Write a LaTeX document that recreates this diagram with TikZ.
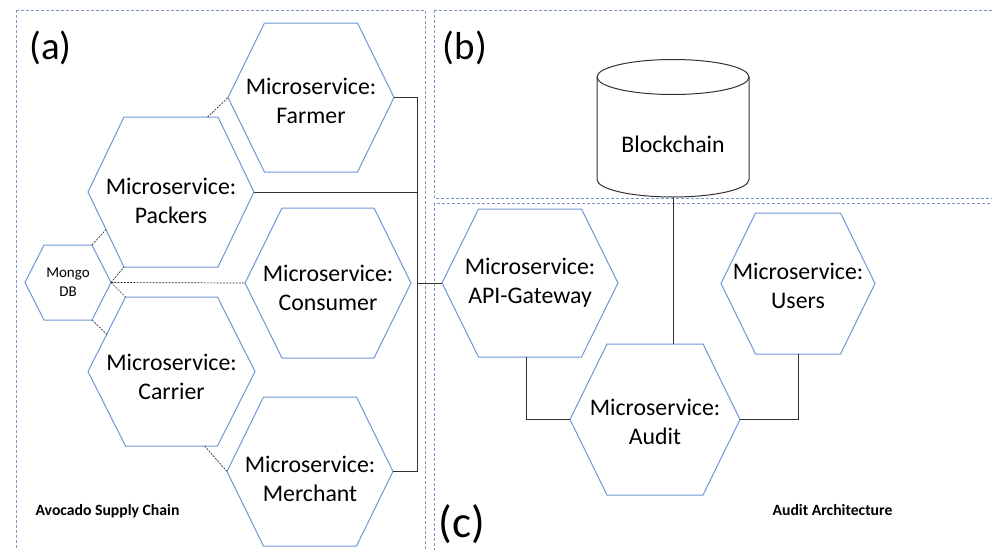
\documentclass[tikz,border=0pt]{standalone}
\usepackage{fontspec}
\setmainfont{Carlito}
\usetikzlibrary{calc}
\definecolor{hexblue}{RGB}{110,150,215}
\definecolor{framecol}{RGB}{125,150,195}
\definecolor{linecol}{RGB}{50,50,50}
\tikzset{
 hexline/.style={draw=hexblue, line width=1pt, line join=miter},
 hextext/.style={align=center, inner sep=0pt, font=\fontsize{23.8}{29}\selectfont},
 smalltext/.style={font=\fontsize{15}{19}\selectfont},
 framebox/.style={draw=framecol, line width=0.8pt, dash pattern=on 3pt off 2pt},
 conn/.style={draw=linecol, line width=1pt},
 dconn/.style={draw=linecol, line width=0.7pt, dash pattern=on 2pt off 1.2pt},
 cyl/.style={draw=linecol, line width=1pt},
 panel/.style={font=\fontsize{39}{41}\selectfont, anchor=base, inner sep=0pt},
 caption/.style={font=\fontsize{15.7}{18}\selectfont\bfseries, anchor=base, inner sep=0pt}
}
\newcommand\hexcell[9][]{%
 \draw[hexline] (#3-#5,#4) coordinate (#2-l) -- (#3-#7,#4-#6) coordinate (#2-tl)
   -- (#3+#7,#4-#6) coordinate (#2-tr) -- (#3+#5,#4) coordinate (#2-r)
   -- (#3+#7,#4+#6) coordinate (#2-br) -- (#3-#7,#4+#6) coordinate (#2-bl) -- cycle;
 \node[hextext,#1] (#2) at (#3,#8) {#9};}
\begin{document}
\begin{tikzpicture}[x=1pt,y=-1pt]
\useasboundingbox (0,0) rectangle (992,549);
\clip (0,0) rectangle (992,549);
% frames
\draw[framebox] (16,10) rectangle (425,560);
\draw[framebox] (434,10) rectangle (1000,198);
\draw[framebox] (434,203) rectangle (1000,560);
% panel labels
\node[panel] (la) at (50.5,59) {(a)};
\node[panel] (lb) at (465,59) {(b)};
\node[panel, font=\fontsize{45}{48}\selectfont] (lc) at (462,537) {(c)};
\node[caption] (capa) at (107.5,515) {Avocado Supply Chain};
\node[caption] (capc) at (832.5,515) {Audit Architecture};
% (a) hexagons
\hexcell{farm}{311}{97.5}{83}{74.5}{46.5}{101}{Microservice:\\Farmer}
\hexcell{pack}{171}{192}{83}{75}{47}{201}{Microservice:\\Packers}
\hexcell{cons}{328}{283}{83}{75}{46}{288}{Microservice:\\Consumer}
\hexcell{carr}{171.5}{371.5}{83.5}{74.5}{46}{376.5}{Microservice:\\Carrier}
\hexcell{merch}{310}{471.5}{83}{74.5}{46.5}{479}{Microservice:\\Merchant}
\hexcell[smalltext]{mongo}{68}{282.5}{43}{37.5}{24}{282.5}{Mongo\\DB}
% (c) hexagons
\hexcell{api}{530}{283}{88}{74}{51.5}{283}{Microservice:\\API-Gateway}
\hexcell{usr}{798}{283.5}{77}{70.5}{42.5}{286}{Microservice:\\Users}
\hexcell{aud}{655}{419.5}{85}{75.5}{48}{421.5}{Microservice:\\Audit}
% blockchain cylinder
\draw[cyl] (597,77) -- (597,179.5) arc[start angle=180,end angle=0,x radius=76,y radius=17.5] -- (749,77);
\draw[cyl] (673,77) ellipse [x radius=76, y radius=17.5];
\coordinate (bc-b) at (673,197);
\node[hextext] (bc) at (673,144) {Blockchain};
% dashed connectors (a)
\draw[dconn] ($(pack-tl)!0.89!(pack-tr)$) -- (farm-l);
\draw[dconn] (mongo-tr) -- ($(pack-l)!0.5!(pack-bl)$);
\draw[dconn] (mongo-r) -- (pack-bl);
\draw[dconn] (mongo-r) -- (cons-l);
\draw[dconn] (mongo-r) -- (carr-tl);
\draw[dconn] (mongo-br) -- ($(carr-tl)!0.5!(carr-l)$);
\draw[dconn] ($(carr-bl)!0.86!(carr-br)$) -- (merch-l);
% solid bus
\coordinate (bus) at (417,0);
\draw[conn] (farm-r) -| (bus |- merch-r) -- (merch-r);
\draw[conn] (pack-r) -- (bus |- pack-r);
\draw[conn] (bus |- api-l) -- (api-l);
% (c) connectors
\coordinate (apib) at ($(api-bl)!0.466!(api-br)$);
\coordinate (usrb) at ($(usr-bl)!0.5!(usr-br)$);
\draw[conn] (apib) |- (aud-l);
\draw[conn] (usrb) |- (aud-r);
\draw[conn] (bc-b) -- (bc-b |- aud-tl);
\end{tikzpicture}
\end{document}
